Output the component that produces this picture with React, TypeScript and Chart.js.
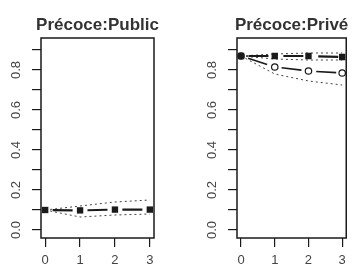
import React, { useEffect, useRef } from "react";
import { Chart, registerables } from "chart.js";

Chart.register(...registerables);

// ---- data ----
const xValues = [0, 1, 2, 3];
const xTickLabels = ["0", "1", "2", "3"];
const yTickValues = [0, 0.1, 0.2, 0.3, 0.4, 0.5, 0.6, 0.7, 0.8, 0.9];
const yLabelValues = [0, 0.2, 0.4, 0.6, 0.8];
const yLabelTexts = ["0.0", "0.2", "0.4", "0.6", "0.8"];

const titlePublic = "Précoce:Public";
const publicMain = [0.1, 0.098, 0.102, 0.102];
const publicUpper = [0.1, 0.12, 0.14, 0.15];
const publicLower = [0.1, 0.065, 0.075, 0.08];

const titlePrive = "Précoce:Privé";
const priveA = [0.87, 0.87, 0.87, 0.865];
const priveALower = [0.87, 0.855, 0.85, 0.85];
const priveAUpper = [0.87, 0.88, 0.885, 0.885];
const priveB = [0.87, 0.815, 0.795, 0.785];
const priveBLower = [0.87, 0.78, 0.745, 0.725];

const X_MIN = -0.12;
const X_MAX = 3.12;
const Y_MIN = -0.04;
const Y_MAX = 0.96;

const FONT = "'Liberation Sans', Arial, sans-serif";
const INK = "#1a1a1a";
const TEXT = "#444";

const pts = (ys: number[]) => ys.map((y, i) => ({ x: xValues[i], y }));

// spacing between integer x positions in pixels (plot width 113)
const SPAN = 113 / (X_MAX - X_MIN);
const DASH_ON = 20;
const DASH_OFF = SPAN - DASH_ON;
const DASH_OFFSET = DASH_ON + DASH_OFF / 2;

function mainLine(ys: number[], filled: boolean) {
  return {
    data: pts(ys),
    borderColor: INK,
    borderWidth: filled ? 2.2 : 1.6,
    borderDash: [DASH_ON, DASH_OFF],
    borderDashOffset: DASH_OFFSET,
    pointStyle: filled ? "rect" : "circle",
    pointRadius: filled ? 4.5 : 3.2,
    pointBackgroundColor: filled ? INK : "#fff",
    pointBorderColor: INK,
    pointBorderWidth: filled ? 0 : 1.2,
    tension: 0,
    fill: false,
  };
}

function ciLine(ys: number[]) {
  return {
    data: pts(ys),
    borderColor: "#444",
    borderWidth: 1,
    borderDash: [2, 3],
    pointRadius: 0,
    tension: 0,
    fill: false,
  };
}

const framePlugin = {
  id: "frame",
  afterDatasetsDraw(chart: any) {
    const { ctx, chartArea: a } = chart;
    ctx.save();
    ctx.strokeStyle = INK;
    ctx.lineWidth = 1.5;
    ctx.strokeRect(a.left, a.top, a.right - a.left, a.bottom - a.top);
    ctx.restore();
  },
};

function makeTextPlugin(title: string) {
  return {
    id: "texts",
    afterDraw(chart: any) {
      const { ctx, chartArea: a } = chart;
      const y = chart.scales.y;
      ctx.save();
      ctx.fillStyle = "#333";
      ctx.font = `bold 17px ${FONT}`;
      ctx.textAlign = "center";
      ctx.textBaseline = "alphabetic";
      ctx.fillText(title, (a.left + a.right) / 2, 30);
      ctx.font = `13px ${FONT}`;
      ctx.fillStyle = TEXT;
      ctx.textBaseline = "middle";
      yLabelValues.forEach((v, i) => {
        const py = y.getPixelForValue(v);
        ctx.save();
        ctx.translate(a.left - 25, py);
        ctx.rotate(-Math.PI / 2);
        ctx.fillText(yLabelTexts[i], 0, 0);
        ctx.restore();
      });
      ctx.restore();
    },
  };
}

function makeConfig(title: string, datasets: any[], axisWidth: number, padRight: number) {
  return {
    type: "line",
    data: { datasets },
    options: {
      animation: false,
      responsive: false,
      devicePixelRatio: 1,
      layout: { padding: { top: 38, right: padRight, bottom: 0, left: 0 } },
      plugins: {
        legend: { display: false },
        tooltip: { enabled: false },
        title: { display: false },
      },
      scales: {
        x: {
          type: "linear",
          min: X_MIN,
          max: X_MAX,
          afterBuildTicks: (s: any) => {
            s.ticks = xValues.map((v) => ({ value: v }));
          },
          afterFit: (s: any) => {
            s.height = 31;
          },
          border: { display: false },
          grid: { drawOnChartArea: false, tickLength: 9, color: INK, lineWidth: 1.2 },
          ticks: {
            autoSkip: false,
            maxRotation: 0,
            padding: 6,
            color: TEXT,
            font: { family: FONT, size: 13 },
            callback: (v: any) => xTickLabels[xValues.indexOf(Number(v))] ?? "",
          },
        },
        y: {
          type: "linear",
          min: Y_MIN,
          max: Y_MAX,
          afterBuildTicks: (s: any) => {
            s.ticks = yTickValues.map((v) => ({ value: v }));
          },
          afterFit: (s: any) => {
            s.width = axisWidth;
          },
          border: { display: false },
          grid: { drawOnChartArea: false, tickLength: 9, color: INK, lineWidth: 1.2 },
          ticks: { display: false },
        },
      },
    },
    plugins: [framePlugin, makeTextPlugin(title)],
  };
}

function Panel(props: { left: number; config: any }) {
  const ref = useRef<HTMLCanvasElement>(null);
  useEffect(() => {
    const chart = new Chart(ref.current as HTMLCanvasElement, props.config);
    return () => chart.destroy();
  }, []);
  return (
    <div style={{ position: "absolute", left: props.left, top: 0, width: 176, height: 269 }}>
      <canvas ref={ref} width={176} height={269} style={{ display: "block" }} />
    </div>
  );
}

export default function App() {
  const publicConfig = makeConfig(
    titlePublic,
    [mainLine(publicMain, true), ciLine(publicUpper), ciLine(publicLower)],
    41,
    22
  );
  const priveConfig = makeConfig(
    titlePrive,
    [
      mainLine(priveA, true),
      mainLine(priveB, false),
      ciLine(priveAUpper),
      ciLine(priveALower),
      ciLine(priveBLower),
    ],
    61,
    2
  );
  return (
    <div style={{ position: "absolute", left: 0, top: 0, width: 352, height: 269, background: "#fff", overflow: "hidden" }}>
      <Panel left={0} config={publicConfig} />
      <Panel left={176} config={priveConfig} />
    </div>
  );
}
